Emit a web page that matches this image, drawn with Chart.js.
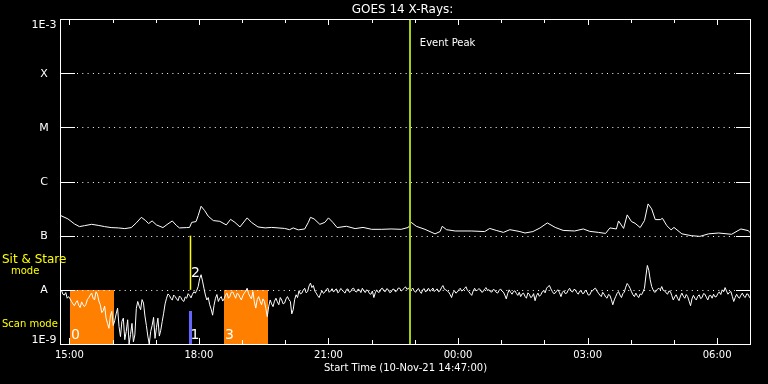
<!DOCTYPE html>
<html><head><meta charset="utf-8">
<script src="https://cdn.jsdelivr.net/npm/chart.js@4.4.1/dist/chart.umd.min.js"></script>
<style>html,body{margin:0;padding:0;background:#000;overflow:hidden}#wrap{width:768px;height:384px}</style>
</head><body><div id="wrap"><canvas id="c" width="768" height="384"></canvas></div>
<script>
// ---- texts ----
const TITLE = 'GOES 14 X-Rays:';
const X_TITLE = 'Start Time (10-Nov-21 14:47:00)';
const EVENT_LABEL = 'Event Peak';

// ---- time axis: minutes after start (10-Nov-21 14:47) ----
const X_MIN = 0, X_MAX = 960;
const hourTicks = [13, 73, 133, 193, 253, 313, 373, 433, 493, 553, 613, 673, 733, 793, 853, 913];
const majorTicks = [13, 193, 373, 553, 733, 913];
const majorLabels = ['15:00', '18:00', '21:00', '00:00', '03:00', '06:00'];

// ---- flux axis ----
const yTickValues = [1e-9, 1e-8, 1e-7, 1e-6, 1e-5, 1e-4, 1e-3];
const yTickLabels = ['1E-9', 'A', 'B', 'C', 'M', 'X', '1E-3'];

// ---- long channel (1-8 A), flux in units of 1e-7 W/m2 ----
const longTimes = [1,11,20,27,34,44,53,62,71,81,90,99,106,113,119,123,128,134,143,150,156,162,166,176,180,183,189,192,196,201,206,213,222,231,237,243,250,260,266,275,285,294,303,312,319,
 324,331,340,345,348,353,361,368,373,379,385,398,410,421,433,447,460,474,484,488,495,507,521,528,531,537,549,572,590,597,606,616,625,639,
 646,657,667,677,688,699,715,727,736,748,758,764,773,776,783,788,794,799,806,812,817,822,827,834,837,843,849,853,864,877,889,901,915,933,946,956,960];
const longFlux = [2.35,2.04,1.65,1.47,1.53,1.62,1.55,1.47,1.41,1.39,1.35,1.41,1.72,2.18,1.90,1.67,1.87,1.58,1.41,1.65,1.87,1.53,1.39,1.41,1.42,1.76,1.82,2.35,3.49,2.90,2.28,1.90,1.84,1.58,2.00,1.76,1.45,2.13,1.76,1.45,1.39,1.42,1.39,1.36,1.29,
 1.39,1.28,1.33,1.76,2.18,2.04,1.62,1.76,2.13,1.76,1.41,1.49,1.35,1.42,1.31,1.31,1.33,1.31,1.42,1.76,1.49,1.31,1.08,1.19,1.49,1.29,1.22,1.22,1.19,1.36,1.25,1.15,1.29,1.19,
 1.12,1.19,1.39,1.72,1.42,1.25,1.22,1.33,1.20,1.15,1.10,1.39,1.33,1.87,1.36,2.42,1.82,1.69,1.41,1.90,3.86,3.12,1.98,1.98,2.09,1.53,1.28,1.42,1.08,1.0,0.97,1.08,1.12,1.06,1.33,1.24,1.10];

// ---- short channel (0.5-4 A), one sample every 2 minutes, flux in units of 1e-8 W/m2 ----
const shortStepMin = 2;
const shortFlux = [
 0.91,0.98,0.83,0.80,0.89,0.70,0.75,0.68,0.61,0.55,0.51,0.58,0.63,0.52,0.47,0.60,0.53,0.49,0.54,0.66,
 0.72,0.80,0.87,0.70,0.65,0.92,0.83,0.62,0.53,0.38,0.41,0.50,0.30,0.24,0.195,0.33,0.40,0.22,0.27,0.36,
 0.46,0.21,0.137,0.26,0.30,0.12,0.17,0.28,0.10,0.15,0.24,0.11,0.147,0.45,0.61,0.50,0.43,0.66,0.57,0.33,
 0.22,0.14,0.10,0.17,0.22,0.31,0.127,0.20,0.30,0.14,0.18,0.26,0.37,0.55,0.70,0.84,0.79,0.69,0.65,0.80,
 0.75,0.68,0.63,0.77,0.72,0.64,0.61,0.74,0.70,0.85,0.79,0.71,0.83,0.92,0.87,0.98,1.15,1.60,1.90,1.45,
 1.07,0.80,0.65,0.72,0.53,0.44,0.34,0.52,0.70,0.82,0.61,0.70,0.75,0.62,0.68,0.80,0.87,0.70,0.75,0.90,
 0.91,0.80,0.70,0.86,0.83,0.72,0.65,0.78,0.87,0.95,1.07,0.85,0.75,0.68,0.93,0.60,0.46,0.66,0.75,0.62,
 0.53,0.68,0.61,0.45,0.32,0.50,0.65,0.55,0.49,0.62,0.70,0.60,0.53,0.72,0.65,0.55,0.57,0.68,0.75,0.66,
 0.61,0.36,0.43,0.66,0.81,0.72,0.96,0.84,0.87,0.99,1.07,0.88,0.93,1.18,1.33,1.10,1.20,0.95,0.87,0.78,
 0.72,0.85,0.96,0.86,0.91,1.02,1.07,0.90,0.96,1.05,0.91,0.99,1.04,0.88,0.93,1.06,1.0,0.92,0.87,1.02,
 1.04,0.90,0.93,1.05,1.07,0.94,0.91,1.03,1.0,0.89,1.07,0.97,0.89,1.00,0.96,0.85,0.83,0.95,0.72,0.88,
 1.0,0.90,0.91,1.04,1.07,0.95,0.93,1.05,1.01,0.89,0.91,1.02,1.03,0.92,0.96,1.08,1.07,0.95,1.0,1.06,
 1.14,1.02,1.07,0.98,1.01,1.08,0.96,0.90,1.0,1.06,0.93,0.86,1.01,1.05,0.91,0.99,1.07,0.94,0.99,1.08,
 0.93,0.99,1.04,0.92,0.96,1.10,1.20,1.03,1.0,0.95,0.91,0.82,0.72,0.88,0.96,0.87,0.91,1.00,1.07,0.95,
 0.99,1.06,1.14,0.98,0.93,0.85,0.79,0.95,1.07,0.96,0.99,1.05,1.01,0.90,0.93,1.04,1.10,0.97,1.01,0.92,
 0.91,1.02,0.99,0.90,0.87,0.97,1.04,0.95,0.91,0.80,0.68,0.86,1.0,0.90,0.83,0.93,0.96,0.86,0.79,0.90,
 0.75,0.84,0.87,0.76,0.70,0.88,0.83,0.72,0.75,0.85,0.63,0.78,0.87,0.76,0.81,0.92,0.96,0.88,1.07,1.15,
 1.20,1.04,0.93,0.85,0.87,0.96,1.0,0.88,0.75,0.90,0.96,0.85,0.87,0.98,1.07,0.95,0.91,1.02,1.0,0.89,
 0.83,0.94,0.96,0.85,0.87,0.99,0.91,0.80,0.81,0.93,0.96,1.04,1.07,0.95,0.87,0.80,0.75,0.90,0.83,0.74,
 0.70,0.82,0.79,0.66,0.53,0.65,0.75,0.86,0.93,0.80,0.72,0.85,0.91,1.12,1.31,1.20,1.07,0.92,0.81,0.75,
 0.87,0.78,0.72,0.84,0.81,0.92,1.07,1.80,2.82,2.30,1.53,1.15,1.0,0.90,0.93,1.03,1.07,1.00,1.15,0.98,
 0.96,0.88,0.83,0.95,0.93,0.78,0.65,0.74,0.81,0.70,0.63,0.77,0.87,0.76,0.70,0.82,0.75,0.62,0.51,0.68,
 0.79,0.70,0.65,0.76,0.81,0.69,0.72,0.85,0.83,0.73,0.65,0.78,0.79,0.70,0.83,0.74,0.75,0.86,0.91,0.82,
 1.0,0.92,1.10,0.95,0.83,0.90,0.93,0.76,0.61,0.72,0.83,0.74,0.70,0.80,0.87,0.76,0.72,0.84,0.83,0.72,0.75];

// ---- observation annotations (minutes after start) ----
const scanStarts = [14, 228];
const scanEnds = [75, 289];
const scanLabels = ['0', '3'];
const blueMarkTime = 180, blueMarkTopFlux = 4.0e-9, blueMarkLabel = '1';
const sitStareTime = 181, sitStareLabel = '2';
const eventPeakTime = 486;
const modeTexts = ['Sit & Stare', 'mode', 'Scan mode'];

const longData = longTimes.map((t, i) => ({x: t, y: longFlux[i] * 1e-7}));
const shortData = shortFlux.map((v, i) => ({x: i * shortStepMin, y: v * 1e-8}));

const FONT = '"DejaVu Sans", sans-serif';

const decor = {
  id: 'decor',
  beforeDraw(chart) {
    const c = chart.ctx; c.save(); c.fillStyle = '#000'; c.fillRect(0, 0, chart.width, chart.height); c.restore();
  },
  beforeDatasetsDraw(chart) {
    const c = chart.ctx, xs = chart.scales.x, ys = chart.scales.y, a = chart.chartArea;
    c.save();
    // scan-mode boxes
    const yA = ys.getPixelForValue(1e-8);
    c.fillStyle = '#ff8000';
    scanStarts.forEach((s, i) => {
      const x0 = Math.round(xs.getPixelForValue(s)), x1 = Math.round(xs.getPixelForValue(scanEnds[i]));
      c.fillRect(x0, Math.round(yA), x1 - x0, Math.round(a.bottom) - Math.round(yA));
    });
    c.fillStyle = '#fff'; c.font = '14px ' + FONT; c.textBaseline = 'alphabetic'; c.textAlign = 'left';
    scanStarts.forEach((s, i) => {
      c.fillText(scanLabels[i], xs.getPixelForValue(s) + 1, a.bottom - 5);
    });
    // blue mark
    const xb = xs.getPixelForValue(blueMarkTime);
    c.fillStyle = '#6464ff';
    const yb = Math.round(ys.getPixelForValue(blueMarkTopFlux));
    c.fillRect(Math.round(xb) - 1, yb, 3, Math.round(a.bottom) - yb);
    c.fillStyle = '#fff';
    c.fillText(blueMarkLabel, xb + 1, a.bottom - 5);
    // sit & stare line
    const xs2 = Math.round(xs.getPixelForValue(sitStareTime)) + 0.5;
    c.strokeStyle = '#ffff00'; c.lineWidth = 1.5;
    c.beginPath(); c.moveTo(xs2, ys.getPixelForValue(1e-7)); c.lineTo(xs2, yA); c.stroke();
    c.fillStyle = '#fff';
    c.fillText(sitStareLabel, xs2 + 0.5, yA - 13);
    // dotted level lines + solid tick segments
    c.strokeStyle = '#fff'; c.lineWidth = 1;
    yTickValues.forEach(v => {
      const y = Math.round(ys.getPixelForValue(v)) + 0.5;
      c.setLineDash([]);
      c.beginPath(); c.moveTo(a.left, y); c.lineTo(a.left + 15, y); c.moveTo(a.right - 15, y); c.lineTo(a.right, y); c.stroke();
      if (v > 1e-9 && v < 1e-3) {
        c.setLineDash([1, 4.3]);
        c.beginPath(); c.moveTo(a.left + 17, y); c.lineTo(a.right - 16, y); c.stroke();
      }
    });
    c.setLineDash([]);
    c.restore();
  },
  afterDatasetsDraw(chart) {
    const c = chart.ctx, xs = chart.scales.x, ys = chart.scales.y, a = chart.chartArea;
    c.save();
    // event peak line
    const xe = xs.getPixelForValue(eventPeakTime);
    c.strokeStyle = '#a0d010'; c.lineWidth = 2;
    c.beginPath(); c.moveTo(Math.round(xe), a.top); c.lineTo(Math.round(xe), a.bottom); c.stroke();
    // frame
    c.strokeStyle = '#fff'; c.lineWidth = 1;
    c.strokeRect(Math.round(a.left) + 0.5, Math.round(a.top) + 0.5, Math.round(a.right - a.left) - 1, Math.round(a.bottom - a.top));
    // hour ticks
    c.beginPath();
    hourTicks.forEach(t => {
      const x = Math.round(xs.getPixelForValue(t)) + 0.5;
      const len = majorTicks.includes(t) ? 6 : 4;
      c.moveTo(x, a.bottom); c.lineTo(x, a.bottom - len);
      c.moveTo(x, a.top); c.lineTo(x, a.top + len);
    });
    c.stroke();
    // texts
    c.fillStyle = '#fff';
    c.font = '12px ' + FONT; c.textAlign = 'center'; c.textBaseline = 'middle';
    c.fillText(TITLE, (a.left + a.right) / 2 - 3, 9.5);
    c.font = '10px ' + FONT;
    majorTicks.forEach((t, i) => c.fillText(majorLabels[i], xs.getPixelForValue(t), 355));
    c.fillText(X_TITLE, (a.left + a.right) / 2, 368.5);
    c.textAlign = 'left';
    c.fillText(EVENT_LABEL, xe + 10, 43.5);
    c.font = '11px ' + FONT; c.textAlign = 'center';
    yTickValues.forEach((v, i) => {
      let y = ys.getPixelForValue(v);
      if (v === 1e-3) { c.textBaseline = 'top'; y += 0.5; }
      else if (v === 1e-9) { c.textBaseline = 'bottom'; y += 1; }
      else c.textBaseline = 'middle';
      c.fillText(yTickLabels[i], 44, y + 0.5);
    });
    c.fillStyle = '#ffff00'; c.textBaseline = 'middle'; c.textAlign = 'left';
    c.font = '12px ' + FONT;
    c.fillText(modeTexts[0], 2, 260);
    c.font = '10px ' + FONT;
    c.fillText(modeTexts[1], 11, 271.5);
    c.fillText(modeTexts[2], 2, 324);
    c.restore();
  }
};

new Chart(document.getElementById('c'), {
  type: 'line',
  data: {
    datasets: [
      {label: 'long', data: longData, borderColor: '#fff', borderWidth: 1, pointRadius: 0, tension: 0},
      {label: 'short', data: shortData, borderColor: '#fff', borderWidth: 1, pointRadius: 0, tension: 0}
    ]
  },
  options: {
    responsive: false, animation: false, devicePixelRatio: 1,
    layout: {padding: {left: 60, right: 17, top: 19, bottom: 40}},
    plugins: {legend: {display: false}, tooltip: {enabled: false}, title: {display: false}},
    scales: {
      x: {type: 'linear', min: X_MIN, max: X_MAX, display: false},
      y: {type: 'logarithmic', min: 1e-9, max: 1e-3, display: false}
    }
  },
  plugins: [decor]
});
</script>
</body></html>
